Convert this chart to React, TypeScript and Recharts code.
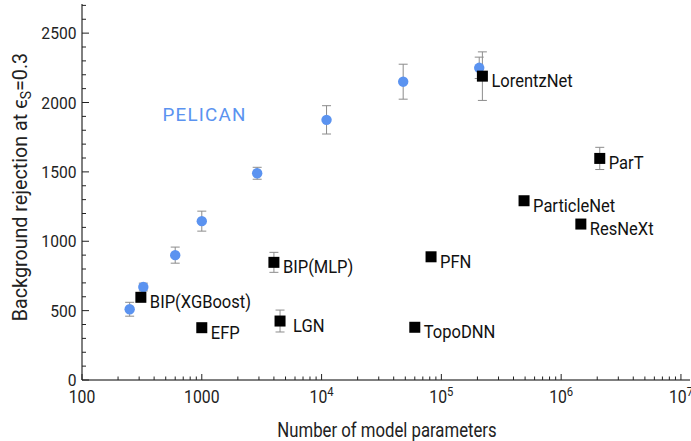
import React from "react";
import {
  ErrorBar,
  ReferenceDot,
  Scatter,
  ScatterChart,
  XAxis,
  YAxis,
} from "recharts";

// PELICAN at different sizes
const pelicanParams = [250, 325, 600, 1000, 2900, 11000, 48000, 207000];
const pelicanRejection = [510, 670, 900, 1145, 1490, 1875, 2150, 2250];
const pelicanError = [50, 28, 58, 72, 43, 102, 126, 77];

// other taggers
const modelNames = [
  "BIP(XGBoost)",
  "EFP",
  "LGN",
  "BIP(MLP)",
  "PFN",
  "TopoDNN",
  "ParticleNet",
  "ResNeXt",
  "ParT",
  "LorentzNet",
];
const modelParams = [310, 1000, 4500, 4000, 82000, 60000, 490000, 1460000, 2100000, 220000];
const modelRejection = [596, 377, 425, 848, 888, 380, 1292, 1124, 1597, 2190];
const modelError = [30, 0, 79, 72, 0, 0, 25, 30, 80, 175];

const xMajorTicks = [100, 1000, 10000, 100000, 1000000, 10000000];
const xMinorTicks = [
  200, 300, 400, 500, 600, 700, 800, 900,
  2000, 3000, 4000, 5000, 6000, 7000, 8000, 9000,
  20000, 30000, 40000, 50000, 60000, 70000, 80000, 90000,
  200000, 300000, 400000, 500000, 600000, 700000, 800000, 900000,
  2000000, 3000000, 4000000, 5000000, 6000000, 7000000, 8000000, 9000000,
];
const yMajorTicks = [0, 500, 1000, 1500, 2000, 2500];
const yMinorTicks = [
  100, 200, 300, 400, 600, 700, 800, 900, 1100, 1200, 1300, 1400,
  1600, 1700, 1800, 1900, 2100, 2200, 2300, 2400, 2600, 2700,
];

const xDomain = [100, 11900000];
const yDomain = [0, 2710];

const pelicanData = pelicanParams.map((p, i) => ({
  params: p,
  rejection: pelicanRejection[i],
  error: pelicanError[i],
}));
const modelData = modelNames.map((name, i) => ({
  name,
  params: modelParams[i],
  rejection: modelRejection[i],
  error: modelError[i],
}));

const FONT = "Roboto, 'Noto Sans', sans-serif";
const BLUE = "#5b93f0";
const ERR = "#8c8c8c";

const isMajorX = (v: number) => xMajorTicks.includes(v);
const isMajorY = (v: number) => yMajorTicks.includes(v);

function BottomTick(props: any) {
  const { x, y, payload } = props;
  const v = payload.value;
  const major = isMajorX(v);
  const exp = Math.round(Math.log10(v));
  return (
    <g>
      <line x1={x} x2={x} y1={y} y2={y - (major ? 6 : 3.5)} stroke="#222" />
      {major && (
        <text
          transform={`translate(${x},${y + 23}) scale(0.9,1)`}
          textAnchor="middle"
          fontFamily={FONT}
          fontSize={17.5}
          fill="#222"
        >
          {exp <= 3 ? (
            String(v)
          ) : (
            <>
              <tspan>10</tspan>
              <tspan dy={-7} fontSize={12.5}>
                {exp}
              </tspan>
            </>
          )}
        </text>
      )}
    </g>
  );
}

function TopTick(props: any) {
  const { x, y, payload } = props;
  const major = isMajorX(payload.value);
  return <line x1={x} x2={x} y1={y} y2={y + (major ? 6 : 3.5)} stroke="#222" />;
}

function LeftTick(props: any) {
  const { x, y, payload } = props;
  const v = payload.value;
  const major = isMajorY(v);
  return (
    <g>
      <line x1={x} x2={x + (major ? 7 : 4)} y1={y} y2={y} stroke="#222" />
      {major && (
        <text
          transform={`translate(${x - 5.5},${y + 6}) scale(0.92,1)`}
          textAnchor="end"
          fontFamily={FONT}
          fontSize={17}
          fill="#222"
        >
          {v}
        </text>
      )}
    </g>
  );
}

function RightTick(props: any) {
  const { x, y, payload } = props;
  const major = isMajorY(payload.value);
  return <line x1={x} x2={x - (major ? 7 : 4)} y1={y} y2={y} stroke="#222" />;
}

function PelicanDot(props: any) {
  const { cx, cy } = props;
  return <circle cx={cx} cy={cy} r={5.2} fill={BLUE} />;
}

function ModelSquare(props: any) {
  const { cx, cy, payload } = props;
  const dx = payload.name === "LGN" ? 13 : 9;
  return (
    <g>
      <rect x={cx - 5.5} y={cy - 5.5} width={11} height={11} fill="#000" />
      <text
        transform={`translate(${cx + dx},${cy + 11}) scale(0.88,1)`}
        fontFamily={FONT}
        fontSize={18.8}
        fill="#111"
      >
        {payload.name}
      </text>
    </g>
  );
}

function PelicanLabel(props: any) {
  const { cx, cy } = props;
  return (
    <text x={cx} y={cy} fontFamily={FONT} fontSize={18.8} letterSpacing={1.2} fill={BLUE}>
      PELICAN
    </text>
  );
}

export default function App() {
  return (
    <div
      style={{
        position: "absolute",
        left: 0,
        top: 0,
        width: 691,
        height: 441,
        overflow: "hidden",
        background: "#fff",
      }}
    >
      <ScatterChart
        width={691}
        height={441}
        margin={{ top: 4, right: 1, bottom: 0, left: 0 }}
        style={{ fontFamily: FONT }}
      >
        <XAxis
          xAxisId="x"
          dataKey="params"
          type="number"
          scale="log"
          domain={xDomain}
          ticks={[...xMajorTicks, ...xMinorTicks]}
          interval={0}
          height={61}
          tickLine={false}
          tickSize={0}
          tickMargin={0}
          tick={<BottomTick />}
          axisLine={{ stroke: "#000" }}
        />
        <XAxis
          xAxisId="top"
          orientation="top"
          type="number"
          scale="log"
          domain={xDomain}
          ticks={[...xMajorTicks, ...xMinorTicks]}
          interval={0}
          height={0}
          tickLine={false}
          tickSize={0}
          tickMargin={0}
          tick={<TopTick />}
          axisLine={{ stroke: "#000" }}
        />
        <YAxis
          yAxisId="y"
          dataKey="rejection"
          type="number"
          domain={yDomain}
          ticks={[...yMajorTicks, ...yMinorTicks]}
          interval={0}
          width={82}
          tickLine={false}
          tickSize={0}
          tickMargin={0}
          tick={<LeftTick />}
          axisLine={{ stroke: "#000" }}
        />
        <YAxis
          yAxisId="right"
          orientation="right"
          type="number"
          domain={yDomain}
          ticks={[...yMajorTicks, ...yMinorTicks]}
          interval={0}
          width={0}
          tickLine={false}
          tickSize={0}
          tickMargin={0}
          tick={<RightTick />}
          axisLine={{ stroke: "#000" }}
        />
        <Scatter
          xAxisId="x"
          yAxisId="y"
          data={pelicanData}
          shape={<PelicanDot />}
          isAnimationActive={false}
        >
          <ErrorBar dataKey="error" direction="y" width={4.5} stroke={ERR} strokeWidth={1} />
        </Scatter>
        <Scatter
          xAxisId="x"
          yAxisId="y"
          data={modelData}
          shape={<ModelSquare />}
          isAnimationActive={false}
        >
          <ErrorBar dataKey="error" direction="y" width={4.5} stroke={ERR} strokeWidth={1} />
        </Scatter>
        <ReferenceDot
          xAxisId="x"
          yAxisId="y"
          x={470}
          y={1870}
          r={0}
          shape={<PelicanLabel />}
        />
      </ScatterChart>
      <svg
        width={691}
        height={441}
        style={{ position: "absolute", left: 0, top: 0, pointerEvents: "none" }}
      >
        <text
          transform="translate(387,436.5) scale(0.85,1)"
          textAnchor="middle"
          fontFamily={FONT}
          fontSize={19.7}
          fill="#222"
        >
          Number of model parameters
        </text>
        <text
          transform="translate(27,187) rotate(-90)"
          textAnchor="middle"
          fontFamily={FONT}
          fontSize={19.7}
          fill="#222"
        >
          Background rejection at ϵ
          <tspan dy={4} fontSize={14}>
            S
          </tspan>
          <tspan dy={-4}>=0.3</tspan>
        </text>
      </svg>
    </div>
  );
}
